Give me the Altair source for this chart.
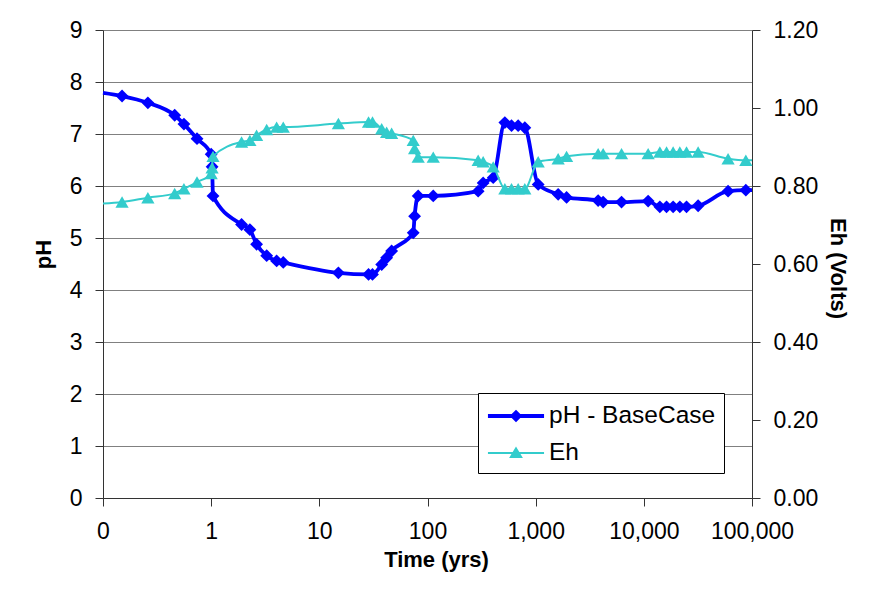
import altair as alt
import pandas as pd

# Time axis values (years)
time_yrs = [0.1, 0.15, 0.26, 0.46, 0.56, 0.74, 1.0, 1.02, 1.04, 1.91, 2.28, 2.63,
            3.26, 4.03, 4.64, 15.0, 28.5, 31.0, 37.7, 41.9, 46.6, 73.8, 76.0, 82.0,
            113, 294, 327, 405, 519, 598, 689, 794, 1055, 1614, 1931, 3781, 4205,
            6220, 10960, 14060, 16220, 18660, 21520, 24820, 31770, 60100, 87700, 100000]
ph_values = [7.79, 7.73, 7.60, 7.36, 7.19, 6.91, 6.61, 6.37, 5.81, 5.26, 5.16, 4.88,
             4.66, 4.56, 4.53, 4.33, 4.30, 4.30, 4.49, 4.62, 4.75, 5.10, 5.42, 5.81,
             5.81, 5.90, 6.06, 6.16, 7.22, 7.16, 7.16, 7.12, 6.03, 5.84, 5.78, 5.72, 5.69,
             5.69, 5.71, 5.60, 5.60, 5.60, 5.60, 5.60, 5.62, 5.90, 5.92, 5.92]
eh_values = [0.755, 0.759, 0.770, 0.781, 0.793, 0.810, 0.832, 0.847, 0.876, 0.913, 0.917, 0.930,
             0.945, 0.951, 0.951, 0.960, 0.964, 0.964, 0.947, 0.938, 0.935, 0.917, 0.896, 0.874,
             0.874, 0.866, 0.862, 0.849, 0.793, 0.793, 0.793, 0.793, 0.862, 0.870, 0.876, 0.883, 0.883,
             0.883, 0.883, 0.887, 0.887, 0.887, 0.887, 0.887, 0.887, 0.870, 0.866, 0.866]
has_marker = [False] + [True] * 46 + [False]

series_names = ["pH - BaseCase", "Eh"]
series_colors = ["#0000FF", "#33CCCC"]
x_ticks = [0.1, 1, 10, 100, 1000, 10000, 100000]
ph_ticks = [0, 1, 2, 3, 4, 5, 6, 7, 8, 9]
eh_ticks = [0.0, 0.2, 0.4, 0.6, 0.8, 1.0, 1.2]

df = pd.DataFrame({"t": time_yrs, "ph": ph_values, "eh": eh_values, "marker": has_marker})

FONT = "Liberation Sans"
color_scale = alt.Scale(domain=series_names, range=series_colors)

PH_SYM = "M-1.87,-0.13L1.87,-0.13L1.87,0.13L-1.87,0.13Z M0,-0.42L0.42,0L0,0.42L-0.42,0Z"
EH_SYM = "M-1.87,-0.067L1.87,-0.067L1.87,0.067L-1.87,0.067Z M0,-0.44L0.46,0.34L-0.46,0.34Z"

legend = alt.Legend(
    title=None, orient="none", legendX=375, legendY=363,
    symbolType={"expr": f"datum.value == 'Eh' ? '{EH_SYM}' : '{PH_SYM}'"},
    symbolSize=900, symbolStrokeWidth=0, symbolOpacity=1,
    symbolOffset=15, labelOffset=18, labelLimit=400,
    labelFont=FONT, labelFontSize=24.5, labelColor="black",
    padding=8, rowPadding=10, fillColor="white", strokeColor="black",
)

x_enc = alt.X(
    "t:Q",
    scale=alt.Scale(type="log", domain=[0.1, 100000]),
    axis=alt.Axis(
        values=x_ticks, title="Time (yrs)", grid=False,
        labelExpr="datum.value < 1 ? '0' : format(datum.value, ',.0f')",
        labelFlush=False, labelOverlap=False, labelPadding=14, titlePadding=6,
        titleX=333,
    ),
)

y_ph = alt.Y(
    "ph:Q",
    scale=alt.Scale(domain=[0, 9], nice=False),
    axis=alt.Axis(values=ph_ticks, title="pH", orient="left", grid=True,
                  labelPadding=13, titlePadding=14, titleY=224),
)
y_eh = alt.Y(
    "eh:Q",
    scale=alt.Scale(domain=[0, 1.2], nice=False),
    axis=alt.Axis(values=eh_ticks, title="Eh (Volts)", orient="right", grid=False,
                  format=".2f", labelPadding=13, titlePadding=8, titleY=238),
)

base = alt.Chart(df)

ph_line = base.transform_calculate(series="'pH - BaseCase'").mark_line(
    strokeWidth=3.8, interpolate="monotone"
).encode(x=x_enc, y=y_ph, color=alt.Color("series:N", scale=color_scale, legend=legend))

ph_pts = base.transform_filter("datum.marker").transform_calculate(series="'pH - BaseCase'").mark_point(
    shape="diamond", filled=True, size=165, opacity=1
).encode(x=x_enc, y=y_ph, color=alt.Color("series:N", scale=color_scale, legend=legend))

eh_line = base.transform_calculate(series="'Eh'").mark_line(
    strokeWidth=2, interpolate="monotone"
).encode(x=x_enc, y=y_eh, color=alt.Color("series:N", scale=color_scale, legend=legend))

eh_pts = base.transform_filter("datum.marker").transform_calculate(series="'Eh'").mark_point(
    shape="triangle-up", filled=True, size=175, opacity=1
).encode(x=x_enc, y=y_eh, color=alt.Color("series:N", scale=color_scale, legend=legend))

left = alt.layer(ph_line, ph_pts)
right = alt.layer(eh_line, eh_pts)

chart = alt.layer(left, right).resolve_scale(y="independent").properties(
    width=649, height=468,
    autosize=alt.AutoSizeParams(type="none"),
    padding={"left": 95, "top": 22, "right": 110, "bottom": 80},
    background="white",
).configure_axis(
    labelFont=FONT, labelFontSize=23, labelColor="black",
    titleFont=FONT, titleFontSize=22, titleFontWeight="bold", titleColor="black",
    domainColor="#333333", tickColor="#333333", tickSize=8,
    gridColor="#808080", gridWidth=1,
).configure_view(stroke=None)

chart.save("out.html", embed_options={"renderer": "svg", "actions": False})
